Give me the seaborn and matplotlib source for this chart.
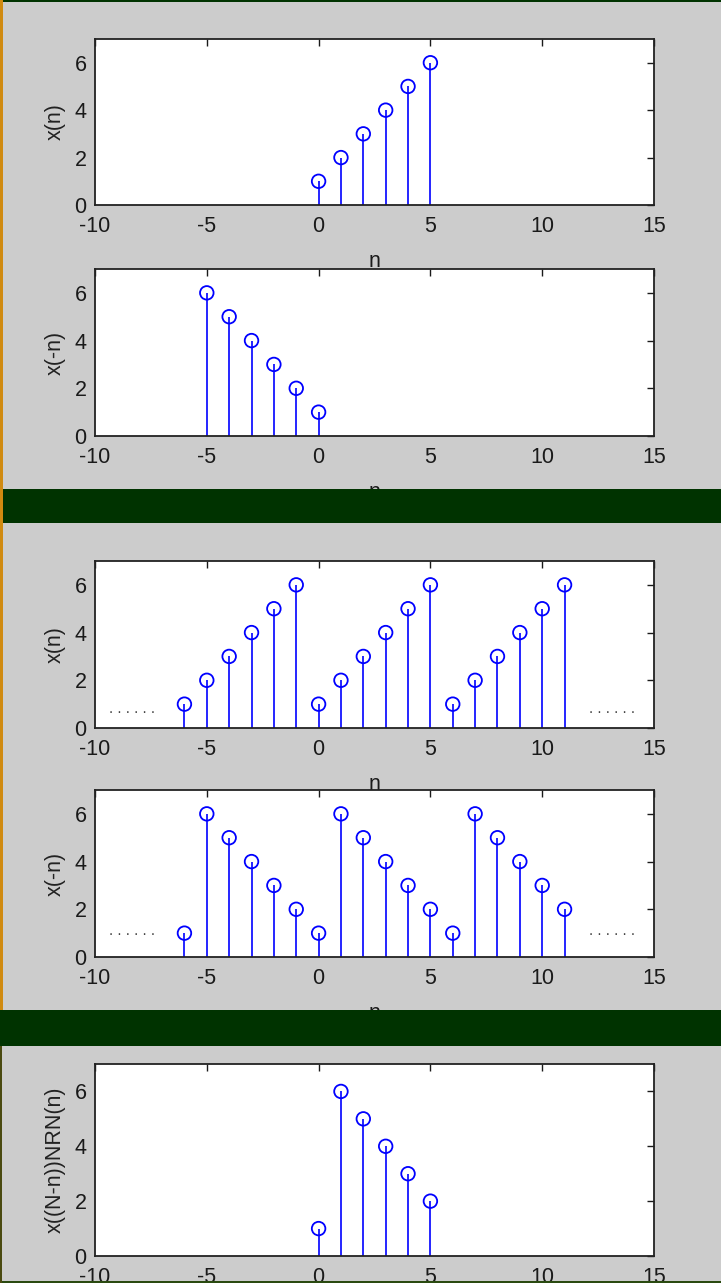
import matplotlib
matplotlib.use("Agg")
import matplotlib.pyplot as plt
import seaborn as sns
import pandas as pd
from matplotlib.patches import Rectangle

sns.set_style("white")
plt.rcParams['font.family'] = ['Liberation Sans', 'DejaVu Sans']
plt.rcParams['axes.unicode_minus'] = False

# ---- data ----
n1 = [0, 1, 2, 3, 4, 5]
x1 = [1, 2, 3, 4, 5, 6]

n2 = [-5, -4, -3, -2, -1, 0]
x2 = [6, 5, 4, 3, 2, 1]

n3 = [-6, -5, -4, -3, -2, -1, 0, 1, 2, 3, 4, 5, 6, 7, 8, 9, 10, 11]
x3 = [1, 2, 3, 4, 5, 6, 1, 2, 3, 4, 5, 6, 1, 2, 3, 4, 5, 6]

n4 = [-6, -5, -4, -3, -2, -1, 0, 1, 2, 3, 4, 5, 6, 7, 8, 9, 10, 11]
x4 = [1, 6, 5, 4, 3, 2, 1, 6, 5, 4, 3, 2, 1, 6, 5, 4, 3, 2]

n5 = [0, 1, 2, 3, 4, 5]
x5 = [1, 6, 5, 4, 3, 2]

ylabels = ["x(n)", "x(-n)", "x(n)", "x(-n)", "x((N-n))NRN(n)"]
xticks = [-10, -5, 0, 5, 10, 15]
yticks = [0, 2, 4, 6]
dots_y = [None, None, 0.8, 1.1, None]

W, H = 721, 1283
fig = plt.figure(figsize=(W / 100, H / 100), dpi=100)
fig.patch.set_facecolor('#cccccc')

# axes boxes in pixels: (left, top, right, bottom)
boxes = [(95, 39, 654, 205), (95, 269, 654, 436), (95, 561, 654, 728),
         (95, 790, 654, 957), (95, 1064, 654, 1256)]
series = [(n1, x1), (n2, x2), (n3, x3), (n4, x4), (n5, x5)]

blue = '#0000ff'
for (l, t, r, b), (nn, xx), yl, dy in zip(boxes, series, ylabels, dots_y):
    ax = fig.add_axes([l / W, 1 - b / H, (r - l) / W, (b - t) / H])
    ax.set_facecolor('white')
    df = pd.DataFrame({'n': nn, 'x': xx})
    ax.vlines(df['n'], 0, df['x'], colors=blue, linewidth=1.2, zorder=2)
    sns.scatterplot(data=df, x='n', y='x', ax=ax, marker='o', s=95,
                    facecolors='none', edgecolor=blue, linewidth=1.3, zorder=3)
    ax.set_xlim(-10, 15)
    ax.set_ylim(0, 7)
    ax.set_xticks(xticks)
    ax.set_yticks(yticks)
    ax.tick_params(direction='in', length=5, width=1, top=True, right=True,
                   labelsize=15.5, colors='#1a1a1a', pad=6)
    ax.tick_params(axis='x', pad=8)
    for s in ax.spines.values():
        s.set_color('#222222')
        s.set_linewidth(1.3)
    ax.set_xlabel('n', fontsize=15.5, color='#1a1a1a', labelpad=10)
    ax.set_ylabel(yl, fontsize=15.5, color='#222222', labelpad=6)
    if dy is not None:
        ax.text(-8.35, dy, '. . . . . .', ha='center', va='center', fontsize=11,
                color='#444444')
        ax.text(13.1, dy, '. . . . . .', ha='center', va='center', fontsize=11,
                color='#444444')
    ax.grid(False)

# dark green separator bands and borders
def band(y0, y1, color, x0=0, x1=W):
    fig.patches.append(Rectangle((x0 / W, 1 - y1 / H), (x1 - x0) / W, (y1 - y0) / H,
                                 transform=fig.transFigure, facecolor=color,
                                 edgecolor='none', zorder=5))

band(489, 523, '#003300')
band(1010, 1046, '#003300')
band(0, 2, '#003300')
band(1281, 1283, '#2a4a10')
band(0, 1010, '#d08a10', 0, 3)
band(1046, 1283, '#4a4a10', 0, 2)

fig.savefig('out.png', dpi=100, facecolor=fig.get_facecolor())
